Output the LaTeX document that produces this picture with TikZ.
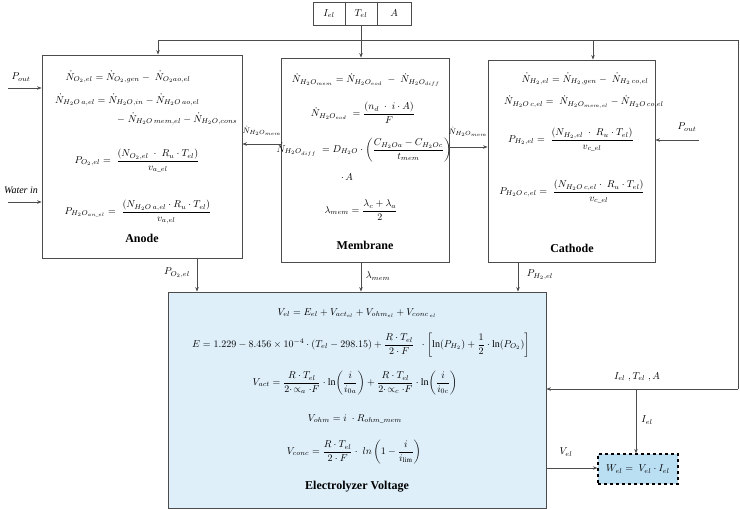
\documentclass[tikz,border=0pt]{standalone}
\usepackage{amsmath}
\usepackage{fontspec}
\setmainfont{Liberation Serif}
\usetikzlibrary{arrows.meta}
\definecolor{evfill}{RGB}{222,239,250}
\definecolor{wfill}{RGB}{186,222,242}
\tikzset{
  box/.style={draw=black!70, line width=0.8pt, inner sep=0pt},
  cell/.style={draw=black!70, line width=0.7pt, minimum height=23pt, inner sep=0pt},
  eq/.style={inner sep=0pt, font=\fontsize{10}{12}\selectfont},
  lbl/.style={inner sep=0pt, font=\fontsize{10}{12}\selectfont},
  smlbl/.style={inner sep=0pt, font=\fontsize{8.5}{10}\selectfont},
  title/.style={inner sep=0pt, font=\fontsize{12}{14}\selectfont\bfseries},
  wire/.style={draw=black!70, line width=0.7pt},
  arr/.style={draw=black!70, line width=0.7pt, -{Stealth[length=4.5pt,width=3.5pt]}},
}
\begin{document}
\begin{tikzpicture}[x=1pt,y=-1pt]
\useasboundingbox (0,0) rectangle (740,510);

% input cells
\node[cell, minimum width=32pt] (iel) at (329,13.5) {$I_{el}$};
\node[cell, minimum width=32pt] (tel) at (361,13.5) {$T_{el}$};
\node[cell, minimum width=34pt] (ain) at (394,13.5) {$A$};

% main boxes
\node[box, minimum width=200pt, minimum height=203pt] (anode) at (142,156.5) {};
\node[box, minimum width=168pt, minimum height=204pt] (membrane) at (365,160) {};
\node[box, minimum width=167pt, minimum height=202pt] (cathode) at (571.5,161) {};
\node[box, fill=evfill, minimum width=378pt, minimum height=216pt] (ev) at (357,400) {};
\node[draw=black, line width=1.2pt, dashed, fill=wfill, minimum width=80pt, minimum height=30pt, inner sep=0pt, font=\fontsize{10}{12}\selectfont] (wel) at (638,469) {$W_{el}=\;V_{el}\cdot I_{el}$};

% anode contents
\node[eq] (a1) at (128,77) {$\dot N_{O_2,el}=\dot N_{O_2,gen}-\;\dot N_{O_2 ao,el}$};
\node[eq, anchor=west] (a2) at (55,100) {$\dot N_{H_2O\,a,el}=\dot N_{H_2O,in}-\dot N_{H_2O\,ao,el}$};
\node[eq, anchor=west] (a3) at (117,119) {$-\;\dot N_{H_2O\,mem,el}-\dot N_{H_2O,cons}$};
\node[eq] (a4) at (137,161) {$P_{O_2,el}=\;\dfrac{(N_{O_2,el}\;\cdot\;R_u\cdot T_{el})}{v_{a\_el}}$};
\node[eq] (a5) at (138,212) {$P_{H_2O_{an\_el}}=\;\dfrac{(N_{H_2O\,a,el}\cdot R_u\cdot T_{el})}{v_{a,el}}$};
\node[title] (at) at (142,238) {Anode};

% membrane contents
\node[eq] (m1) at (366,80) {$\dot N_{H_2O_{mem}}=\dot N_{H_2O_{eod}}\;-\;\dot N_{H_2O_{diff}}$};
\node[eq] (m2) at (363,113) {$\dot N_{H_2O_{eod}}\;=\dfrac{(n_d\;\cdot\;i\cdot A)}{F}$};
\node[eq] (m3) at (364,150) {$\dot N_{H_2O_{diff}}\;=D_{H_2O}\cdot\left(\dfrac{C_{H_2Oa}-C_{H_2Oc}}{t_{mem}}\right)$};
\node[eq] (m4) at (347,177) {$\cdot\, A$};
\node[eq] (m5) at (361,210) {$\lambda_{mem}=\dfrac{\lambda_c+\lambda_a}{2}$};
\node[title] (mt) at (365,245) {Membrane};

% cathode contents
\node[eq] (c1) at (585,79) {$\dot N_{H_2,el}=\dot N_{H_2,gen}-\;\dot N_{H_2\,co,el}$};
\node[eq] (c2) at (584,102) {$\dot N_{H_2O\,c,el}=\;\dot N_{H_2O_{mem,el}}-\dot N_{H_2O\,co,el}$};
\node[eq] (c3) at (571,140) {$P_{H_2,el}=\;\dfrac{(N_{H_2,el}\;\cdot\;R_u\cdot T_{el})}{v_{c\_el}}$};
\node[eq] (c4) at (572,192) {$P_{H_2O\,c,el}=\;\dfrac{(N_{H_2O\,c,el}\cdot\;R_u\cdot T_{el})}{v_{c\_el}}$};
\node[title] (ct) at (572,248) {Cathode};

% electrolyzer voltage contents
\node[eq] (v1) at (357,313) {$V_{el}=E_{el}+V_{act_{el}}+V_{ohm_{el}}+V_{conc\,_{el}}$};
\node[eq] (v2) at (361,345) {$E=1.229-8.456\times10^{-4}\cdot(T_{el}-298.15)+\dfrac{R\cdot T_{el}}{2\cdot F}\;\;\cdot\left[\ln\!\left(P_{H_2}\right)+\dfrac{1}{2}\cdot\ln\!\left(P_{O_2}\right)\right]$};
\node[eq] (v3) at (355,383) {$V_{act}=\dfrac{R\cdot T_{el}}{2\cdot\!\propto_a\cdot F}\cdot\ln\!\left(\dfrac{i}{i_{0a}}\right)+\dfrac{R\cdot T_{el}}{2\cdot\!\propto_c\cdot F}\cdot\ln\!\left(\dfrac{i}{i_{0c}}\right)$};
\node[eq] (v4) at (355,419) {$V_{ohm}=i\;\cdot R_{ohm\_mem}$};
\node[eq] (v5) at (354,452) {$V_{conc}=\dfrac{R\cdot T_{el}}{2\cdot F}\cdot\;ln\left(1-\dfrac{i}{i_{\lim}}\right)$};
\node[title] (vt) at (357,487) {Electrolyzer Voltage};

% top distribution line
\coordinate (tA) at (158,40);
\coordinate (tC) at (593,40);
\coordinate (tR) at (738,40);
\coordinate (bR) at (738,389);
\coordinate (bW) at (636,389);
\draw[wire] (tA) -- (tR) -- (bR);
\draw[arr] (bR) -- (ev.east |- bR);
\draw[arr] (tA) -- (anode.north -| tA);
\draw[arr] (tC) -- (cathode.north -| tC);
\draw[arr] (tel.south) -- (membrane.north -| tel.south);
\draw[arr] (bW) -- (wel.north -| bW);
\node[lbl] (lIT) at (637,377) {$I_{el}\;,T_{el}\;,A$};
\node[lbl] (lI) at (647,420) {$I_{el}$};

% membrane to anode / cathode
\coordinate (hA) at (0,144);
\coordinate (hC) at (0,147);
\draw[arr] (membrane.west |- hA) -- (anode.east |- hA);
\draw[arr] (membrane.east |- hC) -- (cathode.west |- hC);
\node[smlbl] (lNa) at (262,131) {$\dot N_{H_2O_{mem}}$};
\node[smlbl] (lNc) at (468,132) {$\dot N_{H_2O_{mem}}$};

% external inputs
\coordinate (pL) at (8,88);
\coordinate (wL) at (8,202);
\coordinate (pR) at (699,140);
\draw[arr] (pL) -- (anode.west |- pL);
\draw[arr] (wL) -- (anode.west |- wL);
\draw[arr] (pR) -- (cathode.east |- pR);
\node[lbl] (lpL) at (21,77) {$P_{out}$};
\node[lbl] (lwL) at (21,190) {\itshape Water in};
\node[lbl] (lpR) at (687,127) {$P_{out}$};

% to electrolyzer voltage
\coordinate (dA) at (197,258);
\coordinate (dM) at (361,262);
\coordinate (dC) at (518,262);
\draw[arr] (dA) -- (ev.north -| dA);
\draw[arr] (dM) -- (ev.north -| dM);
\draw[arr] (dC) -- (ev.north -| dC);
\node[lbl] (lpo) at (177,273) {$P_{O_2,el}$};
\node[lbl] (llm) at (378,276) {$\lambda_{mem}$};
\node[lbl] (lph) at (540,275) {$P_{H_2,el}$};

% V_el to W
\coordinate (vE) at (0,468);
\draw[arr] (ev.east |- vE) -- (wel.west |- vE);
\node[lbl] (lV) at (566,452) {$V_{el}$};
\end{tikzpicture}
\end{document}
